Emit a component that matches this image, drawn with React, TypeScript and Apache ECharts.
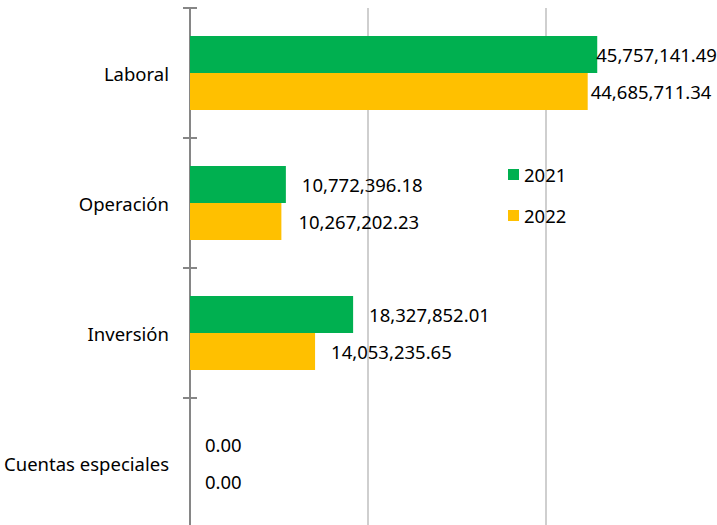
import React, { useEffect, useRef } from "react";
import * as echarts from "echarts";

const categories = ["Laboral", "Operación", "Inversión", "Cuentas especiales"];
const values2021 = [45757141.49, 10772396.18, 18327852.01, 0];
const values2022 = [44685711.34, 10267202.23, 14053235.65, 0];
const seriesNames = ["2021", "2022"];

const FONT = "Noto Sans";

const fmt = (v: number) =>
  v.toLocaleString("en-US", { minimumFractionDigits: 2, maximumFractionDigits: 2 });

// label horizontal shifts relative to default "right" placement (px)
const labelDx2021 = [-6, 11, 11, 10];
const labelDx2022 = [-2, 12, 11, 10];

export default function App() {
  const ref = useRef<HTMLDivElement>(null);
  useEffect(() => {
    if (!ref.current) return;
    const chart = echarts.init(ref.current, null, { renderer: "svg" });
    const mk = (vals: number[], dx: number[]) =>
      vals.map((v, i) => ({
        value: v,
        label: { offset: [dx[i], 0] },
      }));
    const labelCommon = {
      show: true,
      position: "right",
      distance: 5,
      color: "#000",
      fontFamily: FONT,
      fontSize: 18.5,
      formatter: (p: any) => fmt(p.value),
    };
    chart.setOption({
      animation: false,
      backgroundColor: "#fff",
      textStyle: { fontFamily: FONT },
      grid: {
        left: 190,
        width: 534,
        top: 8,
        height: 520,
        containLabel: false,
        outerBoundsMode: "none",
      },
      legend: {
        orient: "vertical",
        left: 503,
        top: 160,
        icon: "rect",
        itemWidth: 11,
        itemHeight: 11,
        itemGap: 22,
        textStyle: { fontFamily: FONT, fontSize: 18.5, color: "#000" },
        data: seriesNames,
      },
      xAxis: {
        type: "value",
        min: 0,
        max: 60000000,
        interval: 20000000,
        axisLabel: { show: false },
        axisLine: { show: false },
        axisTick: { show: false },
        splitLine: { show: true, lineStyle: { color: "#bfbfbf", width: 1.5 } },
      },
      yAxis: [
        {
          type: "category",
          data: categories,
          inverse: true,
          axisLine: { show: true, lineStyle: { color: "#868686", width: 2 } },
          axisTick: { show: true, inside: false, length: 7, lineStyle: { color: "#868686", width: 2 } },
          axisLabel: {
            margin: 21,
            color: "#000",
            fontFamily: FONT,
            fontSize: 18.5,
            padding: [0, 0, 3, 0],
          },
          splitLine: { show: false },
        },
        {
          type: "category",
          data: categories,
          inverse: true,
          position: "left",
          offset: 0,
          axisLine: { show: false },
          axisTick: { show: true, inside: true, length: 7, lineStyle: { color: "#868686", width: 2 } },
          axisLabel: { show: false },
          splitLine: { show: false },
        },
      ],
      series: [
        {
          name: seriesNames[0],
          type: "bar",
          yAxisIndex: 0,
          data: mk(values2021, labelDx2021),
          itemStyle: { color: "#00B050" },
          barGap: "0%",
          barCategoryGap: "43%",
          label: labelCommon,
        },
        {
          name: seriesNames[1],
          type: "bar",
          yAxisIndex: 0,
          data: mk(values2022, labelDx2022),
          itemStyle: { color: "#FFC000" },
          barGap: "0%",
          barCategoryGap: "43%",
          label: labelCommon,
        },
      ],
    });
    return () => chart.dispose();
  }, []);
  return (
    <div
      ref={ref}
      style={{ position: "fixed", left: 0, top: 0, width: 717, height: 525, background: "#fff" }}
    />
  );
}
